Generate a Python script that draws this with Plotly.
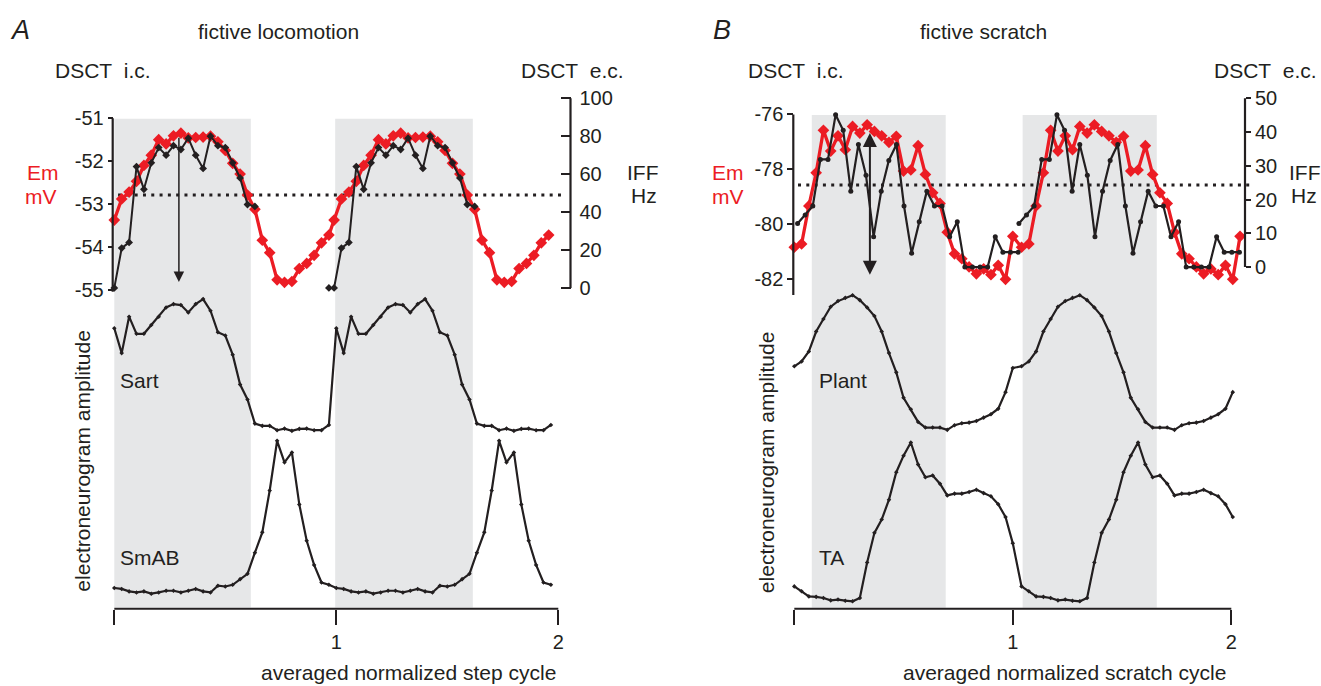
import plotly.graph_objects as go

# ---------------- data ----------------
# Panel A: fictive locomotion, 30 bins per normalized step cycle
A_EM = [-53.37, -52.88, -52.72, -52.47, -52.10, -51.86, -51.50, -51.60, -51.41, -51.35,
        -51.46, -51.45, -51.44, -51.42, -51.55, -51.75, -52.05, -52.30, -52.79, -53.12,
        -53.84, -54.13, -54.76, -54.82, -54.80, -54.50, -54.38, -54.19, -53.90, -53.72]
A_IFF = [0, 21, 24, 64, 52, 66, 74, 70, 75, 73, 79, 70, 63, 80, 75, 74, 66, 58, 44, 43,
         None, None, None, None, None, None, None, None, None, 0]
A_SART = [0.777, 0.589, 0.865, 0.735, 0.735, 0.802, 0.865, 0.935, 0.960, 0.953,
          0.897, 0.960, 0.998, 0.910, 0.747, 0.722, 0.577, 0.351, 0.238, 0.055,
          0.038, 0.038, 0.005, 0.017, 0.000, 0.015, 0.017, 0.005, 0.005, 0.045]
A_SMAB = [0.037, 0.031, 0.015, 0.008, 0.015, 0.000, 0.008, 0.019, 0.019, 0.008,
          0.019, 0.031, 0.015, 0.008, 0.052, 0.047, 0.058, 0.095, 0.130, 0.268,
          0.401, 0.675, 1.000, 0.859, 0.924, 0.584, 0.346, 0.188, 0.073, 0.058]
A_SHADE = [(0.0, 0.615), (0.995, 1.615)]
A_EM_TICKS = [-51, -52, -53, -54, -55]
A_IFF_TICKS = [0, 20, 40, 60, 80, 100]
A_THRESHOLD_EM = -52.785
A_ARROW_PHASE = 0.291
A_ARROW_EM = (-51.42, -54.81)

# Panel B: fictive scratch, 31 bins in the first cycle
B_EM = [-80.85, -80.73, -79.34, -78.13, -76.58, -77.34, -76.78, -77.29, -76.44, -76.68,
        -76.38, -76.62, -76.78, -77.02, -76.80, -78.07, -78.03, -77.14, -78.19, -78.86,
        -79.25, -80.30, -81.09, -81.27, -81.57, -81.82, -81.64, -81.85, -81.51, -82.02,
        -80.45]
B_IFF = [12.9, 15.4, 18.1, 31.9, 31.9, 45.1, 40.5, 22.5, 36.3, 27.2,
         9.0, 22.5, 31.6, 36.3, 18.1, 4.1, 13.4, 22.5, 18.1, 18.1,
         9.0, 13.4, 0, 0, 0, 0, 9.0, 4.4, 4.4, 4.4]
B_PLANT = [0.472, 0.508, 0.582, 0.730, 0.823, 0.914, 0.956, 0.980, 1.000, 0.963,
           0.909, 0.845, 0.730, 0.570, 0.427, 0.238, 0.153, 0.059, 0.017, 0.017,
           0.017, 0.000, 0.035, 0.049, 0.054, 0.066, 0.091, 0.116, 0.157, 0.280,
           0.459]
B_TA = [0.094, 0.063, 0.031, 0.028, 0.021, 0.006, 0.011, 0.004, 0.000, 0.021,
        0.244, 0.431, 0.515, 0.640, 0.813, 0.917, 1.000, 0.861, 0.781, 0.792,
        0.740, 0.667, 0.678, 0.678, 0.688, 0.703, 0.681, 0.661, 0.611, 0.531,
        0.365]
B_SHADE = [(0.080, 0.693), (1.045, 1.659)]
B_EM_TICKS = [-76, -78, -80, -82]
B_IFF_TICKS = [0, 10, 20, 30, 40, 50]
B_THRESHOLD_EM = -78.58
B_ARROW_PHASE = 0.346
B_ARROW_EM = (-76.62, -81.85)

BIN = 1 / 30            # width of one phase bin
A_CYCLE2 = 1.0          # start of second cycle (ENG traces), panel A
A_CYCLE2_IC = 0.99      # start of second cycle (Em / IFF), panel A
B_CYCLE2 = 1.04         # start of second cycle, panel B
B_IFF_BIN = 0.0348
B_IFF_START = (0.015, 1.028)

X_TICKS = [0, 1, 2]
X_TICKTEXT = ["", "1", "2"]

# ---------------- styling / layout helpers ----------------
W, H = 1321, 686
BLACK = "#231f20"
RED = "#ec1c24"
GREY = "#e6e7e8"
FONT = "Liberation Sans, Arial, Helvetica, sans-serif"


def fx(px):
    return px / W


def fy(py):
    return 1 - py / H


def xdom(left, right, p0, ppu):
    return dict(domain=[fx(left), fx(right)],
                range=[(left - p0) / ppu, (right - p0) / ppu])


def ydom(top, bottom, p_ref, v_ref, ppu):
    return dict(domain=[fy(bottom), fy(top)],
                range=[v_ref - (bottom - p_ref) / ppu, v_ref - (top - p_ref) / ppu])


def phases(n, start, step=BIN):
    return [start + k * step for k in range(n)]


fig = go.Figure()

# ---------------- panel A traces ----------------
a_em_x = phases(30, 0) + phases(30, A_CYCLE2_IC)
fig.add_trace(go.Scatter(x=a_em_x, y=A_EM + A_EM, xaxis="x", yaxis="y",
                         mode="lines+markers",
                         line=dict(color=RED, width=3.3),
                         marker=dict(symbol="diamond", size=9, color=RED)))
a_iff_x = phases(30, 0) + phases(29, A_CYCLE2_IC)
fig.add_trace(go.Scatter(x=a_iff_x, y=A_IFF + A_IFF[:29], xaxis="x2", yaxis="y2",
                         mode="lines+markers", connectgaps=False,
                         line=dict(color=BLACK, width=2),
                         marker=dict(symbol="diamond", size=6, color=BLACK)))
a_eng_x = phases(30, 0) + phases(30, A_CYCLE2)
fig.add_trace(go.Scatter(x=a_eng_x, y=A_SART + A_SART, xaxis="x3", yaxis="y3",
                         mode="lines+markers", line=dict(color=BLACK, width=2.2),
                         marker=dict(symbol="diamond", size=3.5, color=BLACK)))
fig.add_trace(go.Scatter(x=a_eng_x, y=A_SMAB + A_SMAB, xaxis="x4", yaxis="y4",
                         mode="lines+markers", line=dict(color=BLACK, width=2.2),
                         marker=dict(symbol="diamond", size=3.5, color=BLACK)))

# ---------------- panel B traces ----------------
b_em_x = phases(31, 0) + phases(31, B_CYCLE2)
fig.add_trace(go.Scatter(x=b_em_x, y=B_EM + B_EM, xaxis="x5", yaxis="y5",
                         mode="lines+markers",
                         line=dict(color=RED, width=3.3),
                         marker=dict(symbol="diamond", size=9, color=RED)))
b_iff_x = phases(30, B_IFF_START[0], B_IFF_BIN) + [None] + phases(30, B_IFF_START[1], B_IFF_BIN)
fig.add_trace(go.Scatter(x=b_iff_x, y=B_IFF + [None] + B_IFF, xaxis="x6", yaxis="y6",
                         mode="lines+markers", connectgaps=False,
                         line=dict(color=BLACK, width=2.2),
                         marker=dict(symbol="circle", size=5, color=BLACK)))
b_eng_x = phases(31, 0) + phases(30, B_CYCLE2)
fig.add_trace(go.Scatter(x=b_eng_x, y=B_PLANT + B_PLANT[:30], xaxis="x7", yaxis="y7",
                         mode="lines+markers", line=dict(color=BLACK, width=2.2),
                         marker=dict(symbol="diamond", size=3.5, color=BLACK)))
fig.add_trace(go.Scatter(x=b_eng_x, y=B_TA + B_TA[:30], xaxis="x8", yaxis="y8",
                         mode="lines+markers", line=dict(color=BLACK, width=2.2),
                         marker=dict(symbol="diamond", size=3.5, color=BLACK)))

# ---------------- axes ----------------
tickfont = dict(family=FONT, size=20, color=BLACK)
hidden = dict(visible=False, showgrid=False, zeroline=False)

A_X = (100, 600, 114.3, 222.0)
B_X = (780, 1262, 794.3, 218.5)

layout_axes = {}
# panel A x axes
layout_axes["xaxis"] = dict(**xdom(*A_X), anchor="free", position=fy(609.3),
                            showgrid=False, zeroline=False, showline=False,
                            tickmode="array", tickvals=X_TICKS, ticktext=X_TICKTEXT,
                            ticks="outside", ticklen=15, tickwidth=2, tickcolor=BLACK,
                            tickfont=tickfont)
for n in (2, 3, 4):
    layout_axes[f"xaxis{n}"] = dict(**xdom(*A_X), **hidden, anchor=f"y{n}")
# panel B x axes
layout_axes["xaxis5"] = dict(**xdom(*B_X), anchor="free", position=fy(609.3),
                             showgrid=False, zeroline=False, showline=False,
                             tickmode="array", tickvals=X_TICKS, ticktext=X_TICKTEXT,
                             ticks="outside", ticklen=15, tickwidth=2, tickcolor=BLACK,
                             tickfont=tickfont)
for n in (6, 7, 8):
    layout_axes[f"xaxis{n}"] = dict(**xdom(*B_X), **hidden, anchor=f"y{n}")

# panel A y axes
layout_axes["yaxis"] = dict(**ydom(100, 300, 115, -51, 43.3), anchor="free",
                            position=fx(112.7), side="left",
                            showgrid=False, zeroline=False, showline=False,
                            tickmode="array", tickvals=A_EM_TICKS,
                            ticktext=[f"-{abs(v)}" for v in A_EM_TICKS],
                            ticks="outside", ticklen=5, tickwidth=2, tickcolor=BLACK,
                            tickfont=tickfont)
layout_axes["yaxis2"] = dict(**ydom(88, 296, 286, 0, 1.91), anchor="free",
                             position=fx(570.5), side="right",
                             showgrid=False, zeroline=False, showline=False,
                             tickmode="array", tickvals=A_IFF_TICKS,
                             ticks="inside", ticklen=10, tickwidth=2, tickcolor=BLACK,
                             ticklabelstandoff=8, tickfont=tickfont)
layout_axes["yaxis3"] = dict(**ydom(285, 440, 430, 0, 133), **hidden, anchor="x3")
layout_axes["yaxis4"] = dict(**ydom(430, 606, 594, 0, 154), **hidden, anchor="x4")
# panel B y axes
layout_axes["yaxis5"] = dict(**ydom(100, 300, 194, -79, 27.59), anchor="free",
                             position=fx(793.3), side="left",
                             showgrid=False, zeroline=False, showline=False,
                             tickmode="array", tickvals=B_EM_TICKS,
                             ticktext=[f"-{abs(v)}" for v in B_EM_TICKS],
                             ticks="outside", ticklen=6, tickwidth=2, tickcolor=BLACK,
                             tickfont=tickfont)
layout_axes["yaxis6"] = dict(**ydom(88, 292, 265, 0, 3.4), anchor="free",
                             position=fx(1245), side="right",
                             showgrid=False, zeroline=False, showline=False,
                             tickmode="array", tickvals=B_IFF_TICKS,
                             ticks="outside", ticklen=5, tickwidth=2, tickcolor=BLACK,
                             tickfont=tickfont)
layout_axes["yaxis7"] = dict(**ydom(285, 440, 429, 0, 135.7), **hidden, anchor="x7")
layout_axes["yaxis8"] = dict(**ydom(430, 610, 601.7, 0, 160), **hidden, anchor="x8")

# ---------------- shapes ----------------
shapes = []
for x0, x1 in A_SHADE:
    shapes.append(dict(type="rect", xref="x", yref="paper", x0=x0, x1=x1,
                       y0=fy(608), y1=fy(115.7), fillcolor=GREY, line=dict(width=0),
                       layer="below"))
for x0, x1 in B_SHADE:
    shapes.append(dict(type="rect", xref="x5", yref="paper", x0=x0, x1=x1,
                       y0=fy(608.3), y1=fy(111.7), fillcolor=GREY, line=dict(width=0),
                       layer="below"))
# threshold (dotted)
dots = dict(color=BLACK, width=3, dash="3px,5.3px")
shapes.append(dict(type="line", xref="x", yref="y", x0=0.017, x1=2.026,
                   y0=A_THRESHOLD_EM, y1=A_THRESHOLD_EM, line=dots, layer="below"))
shapes.append(dict(type="line", xref="x5", yref="y5", x0=0.017, x1=2.086,
                   y0=B_THRESHOLD_EM, y1=B_THRESHOLD_EM, line=dots, layer="below"))
# axis spines
spine = dict(color=BLACK, width=2.2)
shapes.append(dict(type="line", xref="paper", yref="y", x0=fx(112.7), x1=fx(112.7),
                   y0=A_EM_TICKS[0], y1=-55.04, line=spine))
shapes.append(dict(type="line", xref="paper", yref="y2", x0=fx(570.5), x1=fx(570.5),
                   y0=A_IFF_TICKS[0], y1=A_IFF_TICKS[-1], line=spine))
shapes.append(dict(type="line", xref="paper", yref="y5", x0=fx(793.3), x1=fx(793.3),
                   y0=B_EM_TICKS[0], y1=-82.59, line=spine))
shapes.append(dict(type="line", xref="paper", yref="y6", x0=fx(1245), x1=fx(1245),
                   y0=B_IFF_TICKS[0], y1=B_IFF_TICKS[-1], line=spine))
shapes.append(dict(type="line", xref="x", yref="paper", x0=X_TICKS[0], x1=X_TICKS[-1],
                   y0=fy(609.3), y1=fy(609.3), line=dict(color=BLACK, width=2)))
shapes.append(dict(type="line", xref="x5", yref="paper", x0=X_TICKS[0], x1=X_TICKS[-1],
                   y0=fy(609.3), y1=fy(609.3), line=dict(color=BLACK, width=2)))

# ---------------- annotations ----------------
ann = []


def label(text, px, py, size=21, color=BLACK, xanchor="center", angle=0):
    ann.append(dict(text=text, x=fx(px), y=fy(py), xref="paper", yref="paper",
                    xanchor=xanchor, yanchor="middle", showarrow=False,
                    textangle=angle, font=dict(family=FONT, size=size, color=color)))


label("<i>A</i>", 20, 26, size=27)
label("fictive locomotion", 278.5, 28)
label("<i>B</i>", 722, 26, size=27)
label("fictive scratch", 983, 28)
label("DSCT\u00a0 i.c.", 52.6, 67, xanchor="left")
label("DSCT\u00a0 e.c.", 519, 67, xanchor="left")
label("DSCT\u00a0 i.c.", 746, 67, xanchor="left")
label("DSCT\u00a0 e.c.", 1211.6, 67, xanchor="left")
label("Em", 43, 170, color=RED)
label("mV", 41, 194, color=RED)
label("Em", 728.4, 170, color=RED)
label("mV", 728, 194, color=RED)
label("IFF", 643, 170)
label("Hz", 644, 193)
label("IFF", 1304.6, 170)
label("Hz", 1304, 193)
label("electroneurogram amplitude", 83, 461, angle=-90)
label("electroneurogram amplitude", 766, 461.5, angle=-90)
label("Sart", 118.3, 379, xanchor="left")
label("SmAB", 118.3, 557.5, xanchor="left")
label("Plant", 816.7, 379, xanchor="left")
label("TA", 816.7, 558, xanchor="left")
label("averaged normalized step cycle", 408.5, 673)
label("averaged normalized scratch cycle", 1064.6, 673)

# arrows
ann.append(dict(x=A_ARROW_PHASE, y=A_ARROW_EM[1], xref="x", yref="y",
                ax=A_ARROW_PHASE, ay=A_ARROW_EM[0], axref="x", ayref="y",
                text="", showarrow=True, arrowhead=2, arrowsize=1.4,
                arrowwidth=1.5, arrowcolor=BLACK))
ann.append(dict(x=B_ARROW_PHASE, y=B_ARROW_EM[1], xref="x5", yref="y5",
                ax=B_ARROW_PHASE, ay=B_ARROW_EM[0], axref="x5", ayref="y5",
                text="", showarrow=True, arrowhead=2, arrowsize=1.4,
                startarrowhead=2, startarrowsize=1.4, arrowside="end+start",
                arrowwidth=2, arrowcolor=BLACK))

fig.update_layout(width=W, height=H, margin=dict(l=0, r=0, t=0, b=0),
                  paper_bgcolor="white", plot_bgcolor="rgba(0,0,0,0)",
                  showlegend=False, shapes=shapes, annotations=ann,
                  font=dict(family=FONT, color=BLACK), **layout_axes)

fig.write_html("out.html",
               config={"displayModeBar": False},
               post_script="document.body.style.margin='0';"
                           "document.body.style.overflow='hidden';")
